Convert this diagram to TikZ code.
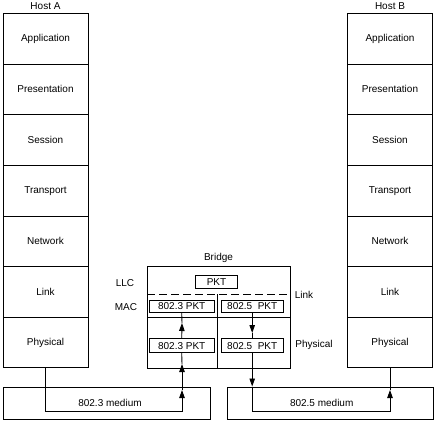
\documentclass[tikz,border=0pt]{standalone}
\usepackage{fontspec}
\setmainfont{Liberation Sans}
\usetikzlibrary{arrows.meta}
\begin{document}
\begin{tikzpicture}[x=1pt,y=-1pt,
  every node/.style={font=\fontsize{10}{12}\selectfont, inner sep=0pt},
  layer/.style={draw, line width=0.9pt, minimum width=85pt, minimum height=50.6pt},
  pktbox/.style={draw, line width=0.9pt, minimum height=13pt},
  frame/.style={draw, line width=0.9pt},
  conn/.style={line width=0.9pt},
  arr/.style={conn, -{Triangle[length=8pt,width=5.5pt]}}
]
\useasboundingbox (0,0) rectangle (443,423);
% Host A
\node (hA) at (45.5,6.5) {Host A};
\node[layer] (a1) at (45.5,38.8) {Application};
\node[layer] (a2) at (45.5,89.4) {Presentation};
\node[layer] (a3) at (45.5,140.0) {Session};
\node[layer] (a4) at (45.5,190.7) {Transport};
\node[layer] (a5) at (45.5,241.3) {Network};
\node[layer] (a6) at (45.5,292.0) {Link};
\node[layer] (a7) at (45.5,342.6) {Physical};
% Host B
\node (hB) at (390,6.5) {Host B};
\node[layer] (b1) at (390,38.8) {Application};
\node[layer] (b2) at (390,89.4) {Presentation};
\node[layer] (b3) at (390,140.0) {Session};
\node[layer] (b4) at (390,190.7) {Transport};
\node[layer] (b5) at (390,241.3) {Network};
\node[layer] (b6) at (390,292.0) {Link};
\node[layer] (b7) at (390,342.6) {Physical};
% Bridge
\node (brl) at (218.5,258) {Bridge};
\node[frame, minimum width=142.7pt, minimum height=101.3pt] (br) at (218.6,317.3) {};
\coordinate (dl) at (147.3,294);
\coordinate (dr) at (290,294);
\coordinate (dm) at (217.7,294);
\coordinate (bm) at (217.7,368);
\coordinate (sl) at (147.3,317.3);
\coordinate (sr) at (290,317.3);
\draw[conn, dash pattern=on 8pt off 4pt] (dl) -- (dr);
\draw[conn] (dm) -- (bm);
\draw[conn] (sl) -- (sr);
\node[pktbox, minimum width=41.6pt, minimum height=13.4pt] (pkt) at (216.5,282) {PKT};
\node[pktbox, minimum width=64.7pt, minimum height=12.7pt] (m3) at (181.7,306.3) {802.3 PKT};
\node[pktbox, minimum width=62.3pt, minimum height=12.7pt] (m5) at (252.2,306.3) {802.5\ \ PKT};
\node[pktbox, minimum width=64.7pt, minimum height=14pt] (p3) at (181.7,345.7) {802.3 PKT};
\node[pktbox, minimum width=62.3pt, minimum height=14pt] (p5) at (252.2,345.7) {802.5\ \ PKT};
\node (llc) at (125,283) {LLC};
\node (mac) at (126,307) {MAC};
\node (lnk) at (304,294.5) {Link};
\node (phy) at (314,345) {Physical};
% Media
\node[frame, minimum width=207pt, minimum height=32pt] (med3) at (106.5,403.3) {};
\node[frame, minimum width=206pt, minimum height=32pt] (med5) at (330,403.3) {};
\node (t3) at (110,402.5) {802.3 medium};
\node (t5) at (321.7,402.5) {802.5 medium};
% Connectors
\coordinate (lc) at (182,411);
\coordinate (lt1) at (182,390);
\coordinate (lt2) at (182,364);
\coordinate (lt3) at (182,323);
\draw[arr] (a7.south) |- (lc) -- (lt1);
\draw[arr] (lt1) -- (lt2);
\draw[conn] (lt2) -- (p3.south);
\draw[arr] (p3.north) -- (lt3);
\draw[conn] (lt3) -- (m3.south);
\coordinate (rt1) at (252.2,333);
\coordinate (rt2) at (252.2,386.5);
\coordinate (rc) at (390,411);
\coordinate (rt3) at (390,390);
\draw[arr] (m5.south) -- (rt1);
\draw[conn] (rt1) -- (p5.north);
\draw[arr] (p5.south) -- (rt2);
\draw[arr] (rt2) |- (rc) -- (rt3);
\draw[conn] (rt3) -- (b7.south);
\end{tikzpicture}
\end{document}
